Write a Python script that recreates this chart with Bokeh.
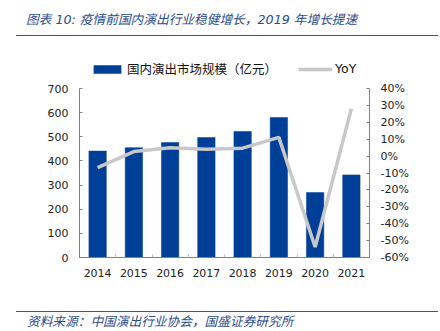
from bokeh.plotting import figure
from bokeh.models import (Range1d, LinearAxis, FixedTicker, PrintfTickFormatter,
                          Legend, LegendItem, ColumnDataSource, Div)
from bokeh.layouts import column
from bokeh.embed import file_html
from bokeh.resources import INLINE

# ---- data ----
years = ["2014", "2015", "2016", "2017", "2018", "2019", "2020", "2021"]
market = [441, 455, 476, 497, 522, 580, 269, 342]          # 国内演出市场规模（亿元）
yoy = [-6.8, 2.7, 5.0, 4.1, 4.7, 11.1, -53.8, 28.0]        # YoY %
left_ticks = [0, 100, 200, 300, 400, 500, 600, 700]
right_ticks = [-60, -50, -40, -30, -20, -10, 0, 10, 20, 30, 40]

title_text = "图表 10: 疫情前国内演出行业稳健增长，2019 年增长提速"
source_text = "资料来源：中国演出行业协会，国盛证券研究所"
bar_label = "国内演出市场规模（亿元）"
line_label = "YoY"

FONT = "DejaVu Sans, 'Noto Sans CJK SC'"
BLUE_TXT = "#2B4C8C"
RULE = "#2F56A0"
BAR = "#003F98"
GRAY = "#C8C8C8"
AX = "#808080"

W = 440

# ---- title strip (HTML) ----
title_html = (
    '<div style="position:relative;width:440px;height:40px;margin:0;padding:0;">'
    '<span style="position:absolute;left:26px;top:13px;font-family:\'DejaVu Sans\',\'Noto Sans CJK SC\';'
    'font-style:italic;font-size:12.7px;line-height:14px;color:%s;white-space:nowrap;">%s</span>'
    '<div style="position:absolute;left:16px;width:422px;top:34.5px;height:0;'
    'border-top:1.6px solid %s;"></div></div>' % (BLUE_TXT, title_text, RULE)
)
t = Div(text=title_html, width=W, height=40, margin=(0, 0, 0, 0))

# ---- main chart ----
# frame spans y = 60..257 px; value 700 / 40% sit at y = 88 px
LEFT_MAX = 700 * 197 / 169
RIGHT_MAX = -60 + 100 * 197 / 169

xs = list(range(len(years)))
src = ColumnDataSource(dict(x=xs, market=market, yoy=yoy))

p = figure(width=W, height=260, x_range=Range1d(-0.5, len(years) - 0.5),
           y_range=Range1d(0, LEFT_MAX), toolbar_location=None, output_backend="svg",
           min_border_left=79, min_border_right=71, min_border_top=20,
           min_border_bottom=43)
p.outline_line_color = None
p.grid.visible = False
p.extra_y_ranges = {"yoy": Range1d(-60, RIGHT_MAX)}

bars = p.vbar(x="x", top="market", width=0.48, source=src, fill_color=BAR,
              line_color=BAR, line_width=0.5)
ln = p.line(x="x", y="yoy", source=src, y_range_name="yoy", line_color=GRAY,
            line_width=3.5)

# x axis
xa = p.xaxis[0]
xa.ticker = FixedTicker(ticks=xs, minor_ticks=[i - 0.5 for i in range(len(years) + 1)])
xa.major_label_overrides = {i: y for i, y in enumerate(years)}
xa.major_tick_in = 0
xa.major_tick_out = 0
xa.minor_tick_in = 3
xa.minor_tick_out = 0
xa.minor_tick_line_color = "#BBBBBB"
xa.axis_line_color = AX
xa.major_label_standoff = 11
xa.major_label_text_font = FONT
xa.major_label_text_font_size = "11px"
xa.major_label_text_color = "#222222"

# left axis
ya = p.yaxis[0]
ya.ticker = FixedTicker(ticks=left_ticks)
ya.bounds = (left_ticks[0], left_ticks[-1])
ya.major_tick_in = 3
ya.major_tick_out = 0
ya.minor_tick_line_color = None
ya.axis_line_color = AX
ya.major_tick_line_color = AX
ya.major_label_standoff = 11
ya.major_label_text_font = FONT
ya.major_label_text_font_size = "11px"
ya.major_label_text_color = "#222222"

# right axis
ra = LinearAxis(y_range_name="yoy", ticker=FixedTicker(ticks=right_ticks),
                formatter=PrintfTickFormatter(format="%d%%"),
                bounds=(right_ticks[0], right_ticks[-1]))
ra.major_tick_in = 3
ra.major_tick_out = 0
ra.minor_tick_line_color = None
ra.axis_line_color = AX
ra.major_tick_line_color = AX
ra.major_label_standoff = 11
ra.major_label_text_font = FONT
ra.major_label_text_font_size = "11px"
ra.major_label_text_color = "#222222"
p.add_layout(ra, "right")

legend = Legend(items=[LegendItem(label=bar_label, renderers=[bars]),
                       LegendItem(label=line_label, renderers=[ln])],
                orientation="horizontal", location=(11, 179))
legend.glyph_width = 34
legend.glyph_height = 10
legend.label_height = 14
legend.label_standoff = 3
legend.spacing = 21
legend.padding = 0
legend.margin = 0
legend.border_line_color = None
legend.background_fill_alpha = 0
legend.label_text_font = FONT
legend.label_text_font_size = "12.5px"
legend.label_text_color = "#111111"
p.add_layout(legend, "center")

# ---- source strip (HTML) ----
source_html = (
    '<div style="position:relative;width:440px;height:31px;margin:0;padding:0;">'
    '<div style="position:absolute;left:16px;width:422px;top:10.5px;height:0;'
    'border-top:1.6px solid %s;"></div>'
    '<span style="position:absolute;left:27px;top:14px;font-family:\'Noto Sans CJK SC\';'
    'font-style:italic;font-size:12.7px;line-height:14px;color:%s;white-space:nowrap;">%s</span>'
    '</div>' % (RULE, BLUE_TXT, source_text)
)
b = Div(text=source_html, width=W, height=31, margin=(0, 0, 0, 0))

layout = column(t, p, b, spacing=0)
open("out.html", "w").write(file_html(layout, INLINE))
